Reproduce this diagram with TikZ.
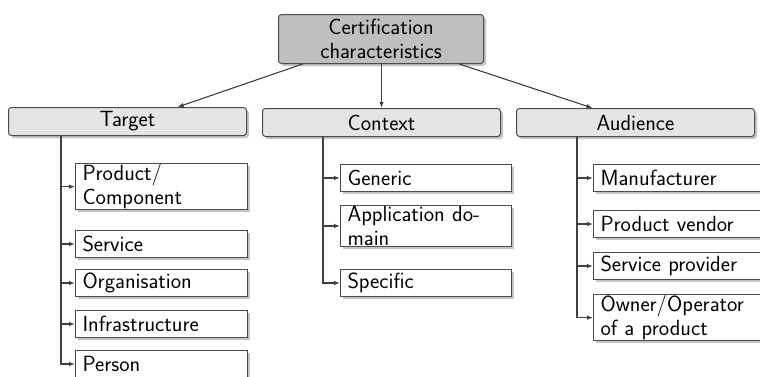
\documentclass[tikz,border=0pt]{standalone}
\usetikzlibrary{shadows,arrows.meta,calc}

\tikzset{
  boxshadow/.style={drop shadow={shadow xshift=2.5pt,shadow yshift=-2.5pt,fill=black!45,opacity=0.5}},
  rootbox/.style={draw=black!70,line width=1pt,fill=black!25,rounded corners=3pt,boxshadow,
    align=center,minimum width=205pt,minimum height=49pt,inner sep=1pt,anchor=north west},
  catbox/.style={draw=black!70,line width=1pt,fill=black!10,rounded corners=3pt,boxshadow,
    minimum width=238pt,minimum height=28pt,inner sep=1pt,anchor=north west},
  itembox/.style={draw=black!70,line width=1pt,fill=white,boxshadow,align=left,anchor=north west,
    inner xsep=7pt,inner ysep=1pt,minimum height=27pt},
  link/.style={draw=black!75,line width=1.1pt,-{Latex[length=6pt,width=4.5pt]}},
}

\begin{document}
\begin{tikzpicture}[x=1pt,y=-1pt,
    every node/.append style={font=\fontsize{22}{23.5}\selectfont\sffamily,text=black}]
  \fill[white] (0,0) rectangle (760,376);
  \useasboundingbox (0,0) rectangle (760,376);

  % top level
  \node[rootbox] (root) at (278,14) {Certification\\characteristics};

  \begin{scope}[every node/.append style={catbox}]
    \node (target)   at (8,107)   {Target};
    \node (context)  at (262,108) {Context};
    \node (audience) at (516,108) {Audience};
  \end{scope}

  % target items
  \begin{scope}[every node/.append style={itembox,text width=158pt}]
    \node (prod)   at (75,163) {Product/\\Component};
    \node (serv)   at (75,230) {Service};
    \node (org)    at (75,269) {Organisation};
    \node (infra)  at (75,310) {Infrastructure};
    \node (person) at (75,350) {Person};
  \end{scope}

  % context items
  \begin{scope}[every node/.append style={itembox,text width=157pt}]
    \node (generic)  at (340,164) {Generic};
    \node (appdom)   at (340,205) {Application do-\\main};
    \node (specific) at (340,269) {Specific};
  \end{scope}

  % audience items
  \begin{scope}[every node/.append style={itembox,text width=163pt}]
    \node (manuf)  at (593,164) {Manufacturer};
    \node (vendor) at (593,210) {Product vendor};
    \node (provid) at (593,252) {Service provider};
    \node (owner)  at (593,294) {Owner/Operator\\of a product};
  \end{scope}

  % root to categories
  \draw[link] ($(root.south west)!0.12!(root.south east)$) -- ($(target.north west)!0.71!(target.north east)$);
  \draw[link] (root.south -| context.north) -- (context.north);
  \draw[link] ($(root.south west)!0.88!(root.south east)$) -- ($(audience.north west)!0.32!(audience.north east)$);

  % rails
  \coordinate (trail) at ([xshift=53pt]target.south west);
  \coordinate (crail) at ([xshift=61pt]context.south west);
  \coordinate (arail) at ([xshift=61pt]audience.south west);

  \foreach \n in {prod,serv,org,infra}
    \draw[link] (trail |- \n.west) -- (\n.west);
  \draw[link] (trail) |- (person.west);

  \foreach \n in {generic,appdom}
    \draw[link] (crail |- \n.west) -- (\n.west);
  \draw[link] (crail) |- (specific.west);

  \foreach \n in {manuf,vendor,provid}
    \draw[link] (arail |- \n.west) -- (\n.west);
  \draw[link] (arail) |- (owner.west);
\end{tikzpicture}
\end{document}
